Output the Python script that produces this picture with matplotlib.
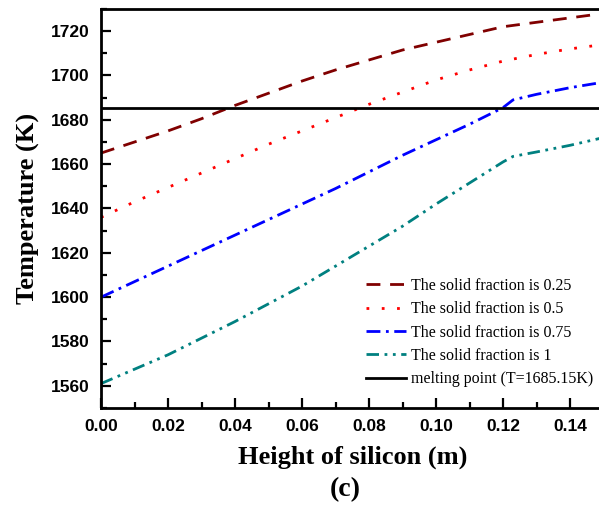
import matplotlib
matplotlib.use("Agg")
import matplotlib.pyplot as plt
from matplotlib.ticker import MultipleLocator

x_a = [0.00, 0.01, 0.02, 0.03, 0.04, 0.05, 0.06, 0.07, 0.08, 0.09, 0.10, 0.11, 0.12, 0.13, 0.14, 0.15]
t_025 = [1665, 1670, 1675, 1680.5, 1686.5, 1692, 1697.5, 1702.5, 1707, 1711.5, 1715, 1718.5, 1722, 1724, 1726, 1728]
t_05 = [1636, 1643, 1649.5, 1656, 1662.5, 1669, 1675, 1681, 1687, 1692.5, 1698, 1702.5, 1706.5, 1709.5, 1712, 1714]
x_b = [0.00, 0.01, 0.02, 0.03, 0.04, 0.05, 0.06, 0.07, 0.08, 0.09, 0.10, 0.11, 0.12, 0.123, 0.13, 0.14, 0.15]
t_075 = [1600, 1607, 1614, 1621, 1628, 1635, 1642, 1649, 1656.5, 1664, 1671, 1678, 1685.5, 1689, 1691.5, 1694.5, 1697]
t_1 = [1561, 1567.5, 1574, 1581.5, 1589, 1597, 1605, 1614, 1623, 1632, 1642, 1651.5, 1661, 1663.5, 1665.5, 1668.5, 1672]
melting = 1685.15
labels = ["The solid fraction is 0.25", "The solid fraction is 0.5",
          "The solid fraction is 0.75", "The solid fraction is 1",
          "melting point (T=1685.15K)"]

fig = plt.figure(figsize=(5.99, 5.07), dpi=100)
ax = fig.add_axes([101/599, 99/507, 502.5/599, 399/507])

ax.plot(x_a, t_025, color="#800000", lw=2, ls=(0, (5, 3.5)), label=labels[0])
ax.plot(x_a, t_05, color="#ff0000", lw=2, ls=(0, (1, 4.5)), label=labels[1])
ax.plot(x_b, t_075, color="#0000ff", lw=2, ls=(0, (5, 2, 1, 2)), label=labels[2])
ax.plot(x_b, t_1, color="#008080", lw=2, ls=(0, (4.5, 2, 1, 2, 1, 2)), label=labels[3])
ax.axhline(melting, color="black", lw=2, label=labels[4])

ax.set_xlim(0, 0.15)
ax.set_ylim(1550, 1730)
ax.xaxis.set_major_locator(MultipleLocator(0.02))
ax.xaxis.set_minor_locator(MultipleLocator(0.01))
ax.yaxis.set_major_locator(MultipleLocator(20))
ax.yaxis.set_minor_locator(MultipleLocator(10))
ax.tick_params(which="both", direction="in", width=1.6, top=False, right=False)
ax.tick_params(which="major", length=7)
ax.tick_params(which="minor", length=4)
for s in ax.spines.values():
    s.set_linewidth(2)
ax.set_xticks(ax.get_xticks())
ax.set_xticklabels(["%.2f" % v for v in ax.get_xticks()])
ax.set_xlim(0, 0.15)
for lab in ax.get_xticklabels() + ax.get_yticklabels():
    lab.set_fontfamily("Liberation Sans")
    lab.set_fontweight("bold")
    lab.set_fontsize(12.5)
ax.tick_params(axis="x", pad=8)
ax.tick_params(axis="y", pad=8)

ax.set_xlabel("Height of silicon (m)", fontfamily="Liberation Serif", fontweight="bold",
              fontsize=19, labelpad=8)
ax.set_ylabel("Temperature (K)", fontfamily="Liberation Serif", fontweight="bold",
              fontsize=19, labelpad=8)

leg = ax.legend(loc="lower left", frameon=False, prop={"family": "Liberation Serif", "size": 11.5},
                handlelength=2.5, handletextpad=0.3, labelspacing=0.46,
                borderpad=0, borderaxespad=0,
                bbox_to_anchor=(0.527, 0.052))

fig.text(345/599, 1 - 490/507, "(c)", ha="center", va="center",
         fontfamily="Liberation Serif", fontweight="bold", fontsize=20)

fig.savefig("out.png", dpi=100)
